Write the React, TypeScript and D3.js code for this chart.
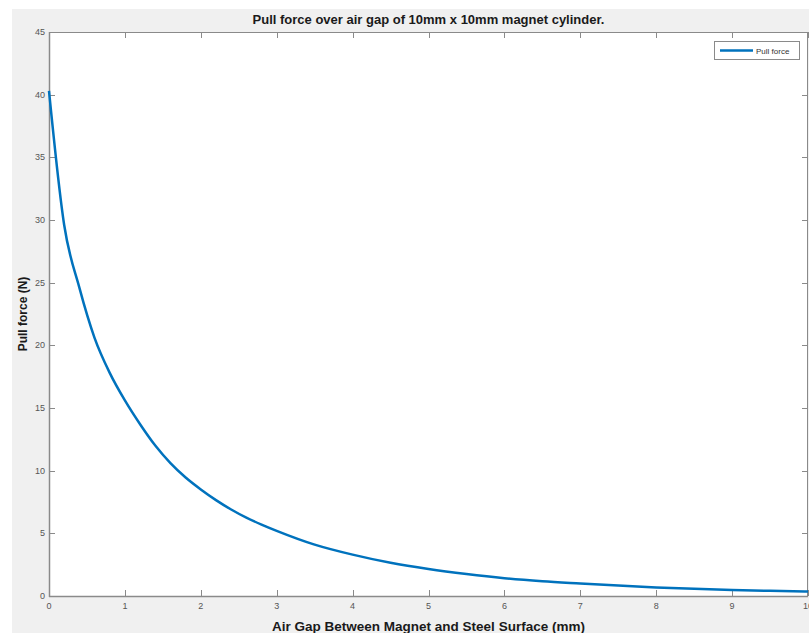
import React, { useEffect, useRef } from "react";
import * as d3 from "d3";

// air gap (mm) and pull force (N)
const gap = [0, 0.2, 0.4, 0.6, 0.8, 1.0, 1.2, 1.4, 1.6, 1.8, 2.0, 2.2, 2.4, 2.6, 2.8, 3.0, 3.5, 4.0, 4.5, 5.0, 5.5, 6.0, 6.5, 7.0, 7.5, 8.0, 8.5, 9.0, 9.5, 10];
const force = [40.3, 29.6, 24.6, 20.6, 17.8, 15.6, 13.7, 12.0, 10.6, 9.45, 8.5, 7.65, 6.9, 6.25, 5.7, 5.2, 4.1, 3.3, 2.65, 2.15, 1.75, 1.42, 1.18, 1.0, 0.83, 0.68, 0.57, 0.48, 0.41, 0.35];
const xTicks = [0, 1, 2, 3, 4, 5, 6, 7, 8, 9, 10];
const yTicks = [0, 5, 10, 15, 20, 25, 30, 35, 40, 45];
const seriesName = "Pull force";

const W = 809;
const H = 633;

const App = () => {
  const ref = useRef<SVGSVGElement>(null);

  useEffect(() => {
    const svg = d3.select(ref.current);
    svg.selectAll("*").remove();

    const left = 49, right = 808, top = 32, bottom = 596;
    const axisColor = "#8a8a8a";
    const textColor = "#555";
    const font = "'Liberation Sans', Arial, Helvetica, sans-serif";

    // figure background
    svg.append("rect").attr("width", W).attr("height", H).attr("fill", "#fff");
    svg.append("rect").attr("x", 12).attr("y", 9).attr("width", W - 12).attr("height", H - 9).attr("fill", "#f0f0f0");

    const x = d3.scaleLinear().domain([0, 10]).range([left, right]);
    const y = d3.scaleLinear().domain([0, 45]).range([bottom, top]);

    svg.append("rect")
      .attr("x", left).attr("y", top)
      .attr("width", right - left).attr("height", bottom - top)
      .attr("fill", "#fff");

    const tl = 6;
    const axes = svg.append("g").attr("stroke", axisColor).attr("stroke-width", 1);

    xTicks.forEach((t) => {
      const px = Math.round(x(t)) + 0.5;
      axes.append("line").attr("x1", px).attr("x2", px).attr("y1", bottom).attr("y2", bottom - tl);
      axes.append("line").attr("x1", px).attr("x2", px).attr("y1", top).attr("y2", top + tl);
    });
    yTicks.forEach((t) => {
      const py = Math.round(y(t)) + 0.5;
      axes.append("line").attr("x1", left).attr("x2", left + tl).attr("y1", py).attr("y2", py);
      axes.append("line").attr("x1", right).attr("x2", right - tl).attr("y1", py).attr("y2", py);
    });

    axes.append("rect")
      .attr("x", left + 0.5).attr("y", top + 0.5)
      .attr("width", right - left - 1).attr("height", bottom - top)
      .attr("fill", "none");
    // heavier left/bottom axis lines
    axes.append("line").attr("x1", left + 0.5).attr("x2", left + 0.5).attr("y1", top).attr("y2", bottom + 1).attr("stroke-width", 1.5);
    axes.append("line").attr("x1", left).attr("x2", right).attr("y1", bottom + 0.5).attr("y2", bottom + 0.5).attr("stroke-width", 1.5);

    svg.append("g")
      .selectAll("text")
      .data(xTicks)
      .enter()
      .append("text")
      .attr("x", (d) => x(d))
      .attr("y", bottom + 13)
      .attr("text-anchor", "middle")
      .attr("font-family", font)
      .attr("font-size", 9)
      .attr("fill", textColor)
      .text((d) => d);

    svg.append("g")
      .selectAll("text")
      .data(yTicks)
      .enter()
      .append("text")
      .attr("x", left - 4)
      .attr("y", (d) => y(d) + 3)
      .attr("text-anchor", "end")
      .attr("font-family", font)
      .attr("font-size", 9)
      .attr("fill", textColor)
      .text((d) => d);

    const points = gap.map((g, i) => [g, force[i]] as [number, number]);
    const line = d3.line<[number, number]>()
      .x((d) => x(d[0]))
      .y((d) => y(d[1]))
      .curve(d3.curveMonotoneX);

    svg.append("path")
      .datum(points)
      .attr("d", line)
      .attr("fill", "none")
      .attr("stroke", "#0072BD")
      .attr("stroke-width", 2.5)
      .attr("stroke-linejoin", "round");

    // legend
    const lg = svg.append("g");
    lg.append("rect")
      .attr("x", 714.5).attr("y", 41.5).attr("width", 85).attr("height", 18)
      .attr("fill", "#fff").attr("stroke", axisColor);
    lg.append("line")
      .attr("x1", 720).attr("x2", 753).attr("y1", 50.5).attr("y2", 50.5)
      .attr("stroke", "#0072BD").attr("stroke-width", 2.5);
    lg.append("text")
      .attr("x", 756).attr("y", 53.5)
      .attr("font-family", font).attr("font-size", 8).attr("fill", "#333")
      .text(seriesName);

    svg.append("text")
      .attr("x", (left + right) / 2).attr("y", 24)
      .attr("text-anchor", "middle")
      .attr("font-family", font).attr("font-weight", "bold").attr("font-size", 13)
      .attr("fill", "#1a1a1a")
      .text("Pull force over air gap of 10mm x 10mm magnet cylinder.");

    svg.append("text")
      .attr("x", (left + right) / 2).attr("y", 631)
      .attr("text-anchor", "middle")
      .attr("font-family", font).attr("font-weight", "bold").attr("font-size", 13.5)
      .attr("fill", "#1a1a1a")
      .text("Air Gap Between Magnet and Steel Surface (mm)");

    svg.append("text")
      .attr("transform", `translate(27,${(top + bottom) / 2}) rotate(-90)`)
      .attr("text-anchor", "middle")
      .attr("font-family", font).attr("font-weight", "bold").attr("font-size", 12)
      .attr("fill", "#1a1a1a")
      .text("Pull force (N)");
  }, []);

  return (
    <svg
      ref={ref}
      width={W}
      height={H}
      style={{ position: "absolute", left: 0, top: 0 }}
    ></svg>
  );
};

export default App;
